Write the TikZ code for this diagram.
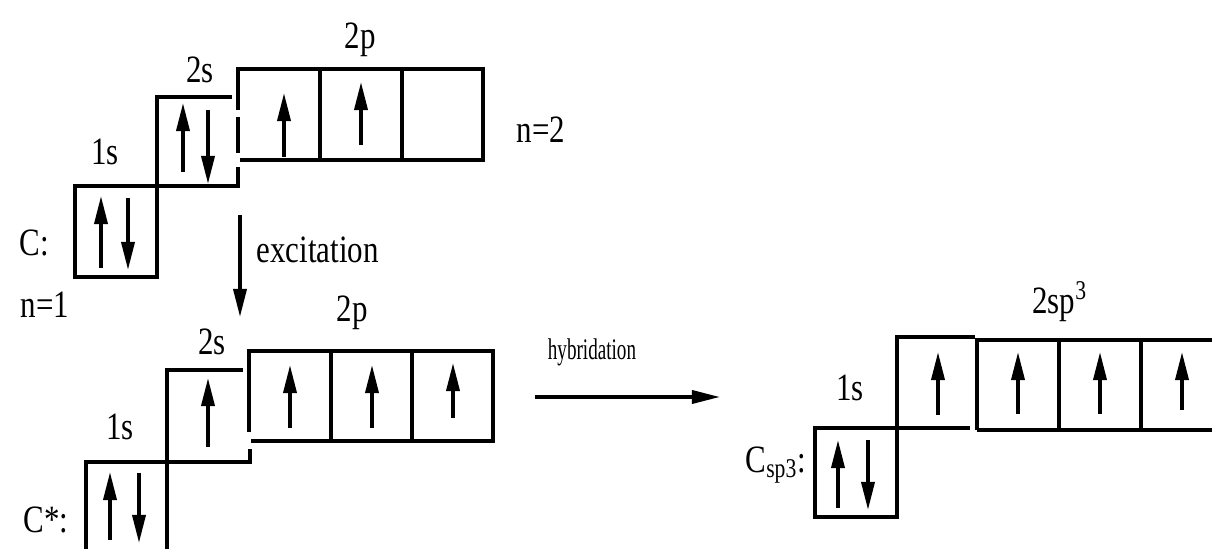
\documentclass[tikz,border=0pt]{standalone}
\usepackage{fontspec}
\setmainfont{Liberation Serif}
\usetikzlibrary{arrows.meta}

\begin{document}
\begin{tikzpicture}[x=0.01cm, y=-0.01cm, >={Triangle[length=2.8mm,width=1.3mm]},
    orb/.style={line width=1pt},
    spin/.style={->, line width=1pt},
    lbl/.style={font=\fontsize{11}{13}\selectfont, xscale=0.8, inner sep=0pt},
    smalllbl/.style={font=\fontsize{8.5}{10}\selectfont, xscale=0.64, inner sep=0pt}]
  \useasboundingbox (0,0) rectangle (1212,549);
  \clip (0,0) rectangle (1212,549);

  % ground state C
  \draw[orb] (75,277) rectangle (157,186);
  \draw[orb] (157,186) -- (157,97) -- (232,97);
  \draw[orb] (75,186) -- (238,186) -- (238,167);
  \draw[orb] (238,117) -- (238,153);
  \draw[orb] (238,110) -- (238,69) -- (483,69) -- (483,160) -- (240,160);
  \draw[orb] (320,69) -- (320,160) (402,69) -- (402,160);

  \draw[spin] (101,268) -- (101,196);
  \draw[spin] (128,198) -- (128,270);
  \draw[spin] (183,172) -- (183,103);
  \draw[spin] (208,110) -- (208,184);
  \draw[spin] (284,157) -- (284,93);
  \draw[spin] (361,145) -- (361,82);

  \node[lbl] (c-1s) at (105,152) {1s};
  \node[lbl] (c-2s) at (200,70) {2s};
  \node[lbl] (c-2p) at (360,40) {2p};
  \node[lbl] (c-n2) at (541,130) {n=2};
  \node[lbl] (c-name) at (34,243) {C:};
  \node[lbl] (c-n1) at (45,305) {n=1};

  % excitation
  \coordinate (exc-a) at (240,215);
  \coordinate (exc-b) at (240,317);
  \draw[->, line width=1pt] (exc-a) -- (exc-b);
  \node[lbl, anchor=west] (exc) at (256,250) {excitation};

  % excited state C*
  \draw[orb] (86,549) -- (86,462) -- (250,462) -- (250,449);
  \draw[orb] (167,549) -- (167,370) -- (243,370);
  \draw[orb] (249,432) -- (249,351) -- (493,351) -- (493,441) -- (251,441);
  \draw[orb] (331,351) -- (331,441) (412,351) -- (412,441);

  \draw[spin] (110,540) -- (110,472);
  \draw[spin] (139,473) -- (139,543);
  \draw[spin] (208,447) -- (208,378);
  \draw[spin] (290,428) -- (290,365);
  \draw[spin] (372,428) -- (372,365);
  \draw[spin] (453,418) -- (453,363);

  \node[lbl] (cx-1s) at (120,427) {1s};
  \node[lbl] (cx-2s) at (212,342) {2s};
  \node[lbl] (cx-2p) at (352,313) {2p};
  \node[lbl] (cx-name) at (46,520) {C*:};

  % hybridation
  \coordinate (hyb-a) at (535,397);
  \coordinate (hyb-b) at (720,397);
  \draw[->, line width=1pt] (hyb-a) -- (hyb-b);
  \node[smalllbl] (hyb) at (592,352) {hybridation};

  % hybridised C_sp3
  \draw[orb] (815,517) rectangle (897,428);
  \draw[orb] (815,428) -- (970,428);
  \draw[orb] (897,517) -- (897,337) -- (975,337);
  \draw[orb] (977,430) -- (977,340) -- (1225,340) (977,430) -- (1225,430);
  \draw[orb] (1059,340) -- (1059,430) (1141,340) -- (1141,430);

  \draw[spin] (838,508) -- (838,440);
  \draw[spin] (868,440) -- (868,510);
  \draw[spin] (938,415) -- (938,352);
  \draw[spin] (1018,414) -- (1018,352);
  \draw[spin] (1100,414) -- (1100,352);
  \draw[spin] (1182,410) -- (1182,352);

  \node[lbl] (cs-1s) at (850,388) {1s};
  \node[lbl] (cs-2sp) at (1060,302) {2sp\textsuperscript{3}};
  \node[lbl] (cs-name) at (776,465) {C\textsubscript{sp3}:};
\end{tikzpicture}
\end{document}
